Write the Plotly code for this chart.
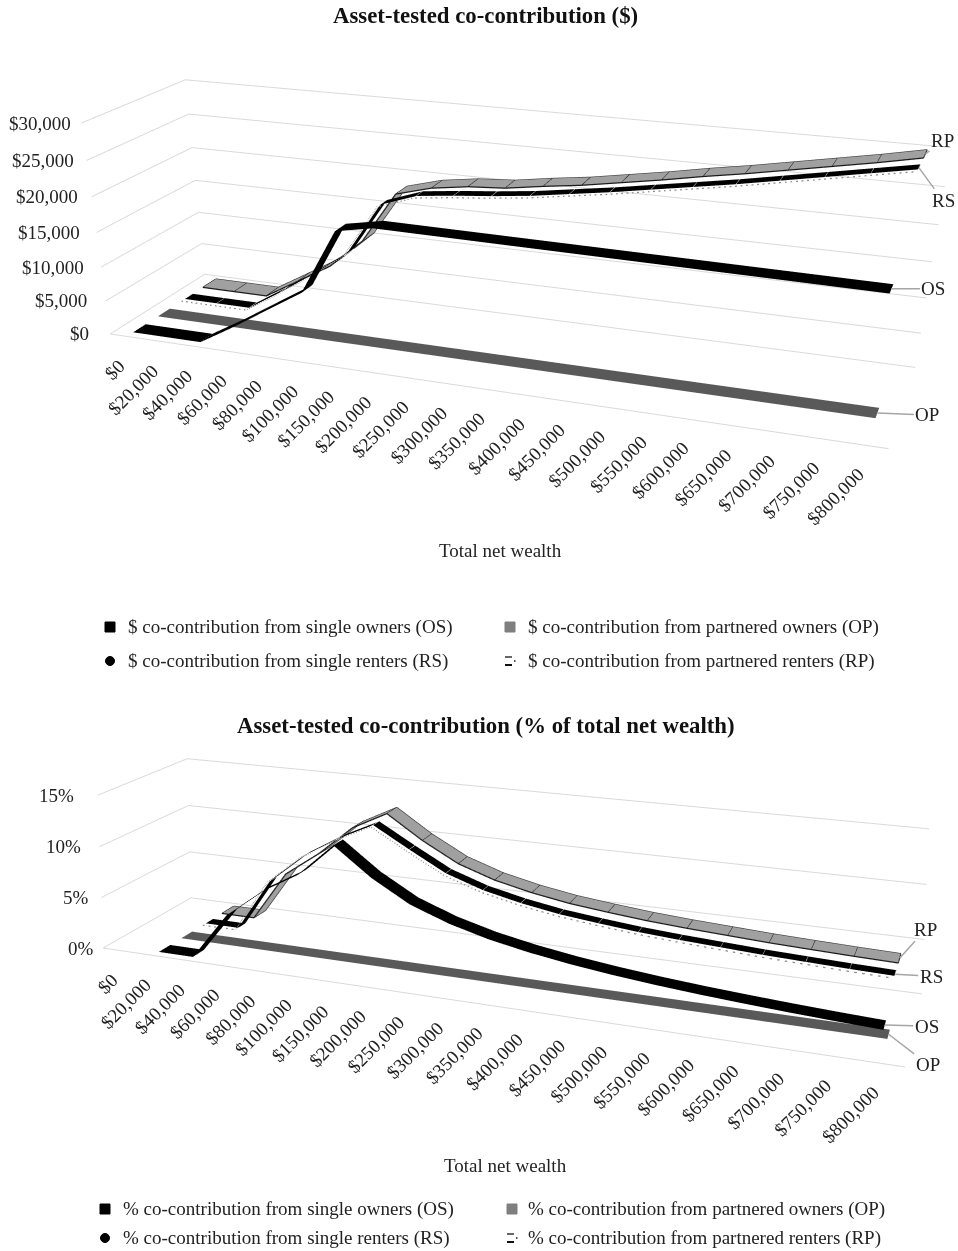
import numpy as np
import plotly.graph_objects as go

W, H = 958, 1251
CATEGORIES = ["$0","$20,000","$40,000","$60,000","$80,000","$100,000","$150,000","$200,000","$250,000","$300,000",
              "$350,000","$400,000","$450,000","$500,000","$550,000","$600,000","$650,000","$700,000","$750,000","$800,000"]
D_OS = [0,0,0,3000,6200,9400,18600,19600,19550,19500,19450,19400,19350,19300,19250,19200,19150,19100,19050,19000]
D_OP = [0]*20
D_RS = [0,0,0,3200,6600,10300,18000,19800,20400,20900,21500,22300,23100,24000,24900,25800,26800,27800,28800,29800]
D_RP = [0,0,0,3000,6000,10500,18000,19400,20150,20500,21300,22000,22900,23800,24800,25700,26700,27700,28700,29800]
P_OS = [None,0,0,4.5,7.2,9.2,12.4,9.8,7.8,6.5,5.55,4.85,4.3,3.86,3.5,3.2,2.95,2.73,2.54,2.38]
P_OP = [None]+[0]*19
P_RS = [None,0,0,5.3,8.2,10.3,12,10,8.1,6.9,6.1,5.5,5.1,4.75,4.5,4.3,4.1,3.96,3.83,3.73]
P_RP = [None,0,0,5,7.5,10.5,12.3,10,8.1,6.9,6.1,5.5,5.1,4.75,4.5,4.3,4.1,3.96,3.83,3.73]
Z_TOP = [0,5000,10000,15000,20000,25000,30000]
Z_TOP_TEXT = ["$0","$5,000","$10,000","$15,000","$20,000","$25,000","$30,000"]
Z_BOT = [0,5,10,15]
Z_BOT_TEXT = ["0%","5%","10%","15%"]
SERIF = "Liberation Serif"
INK = "#222222"
X = list(range(20))

fig = go.Figure()

def ribbon(scene, y0, y1, vals, color):
    v = np.array([vals,vals],dtype=float)
    fig.add_trace(go.Surface(scene=scene, x=np.array([X,X]), y=np.array([[y0]*20,[y1]*20]), z=v,
        surfacecolor=np.zeros_like(v), colorscale=[[0,color],[1,color]], cmin=0, cmax=1, showscale=False,
        hoverinfo="skip", lighting=dict(ambient=1,diffuse=0,specular=0,fresnel=0)))

def edge(scene, y, vals, color, width, dash="solid"):
    fig.add_trace(go.Scatter3d(scene=scene, x=X, y=[y]*20, z=vals, mode="lines", hoverinfo="skip",
        line=dict(color=color,width=width,dash=dash)))

def cross(scene, y0, y1, vals, color, width):
    xs,ys,zs=[],[],[]
    for i,v in zip(X,vals):
        if v is None: continue
        xs+=[i,i,None]; ys+=[y0,y1,None]; zs+=[v,v,None]
    fig.add_trace(go.Scatter3d(scene=scene, x=xs, y=ys, z=zs, mode="lines", hoverinfo="skip",
        line=dict(color=color,width=width)))

def series(scene, os_, op, rs, rp):
    ribbon(scene,.25,.75,os_,"#000000")
    ribbon(scene,1.25,1.75,op,"#595959")
    ribbon(scene,2.4,2.75,rs,"#000000")
    edge(scene,2.25,rs,"#8c8c8c",2.5,"dot")
    cross(scene,2.25,2.75,rs,"#ffffff",1.5)
    ribbon(scene,3.2,3.8,rp,"#a0a0a0")
    edge(scene,3.2,rp,"#1a1a1a",2.5)
    edge(scene,3.8,rp,"#404040",2.5)
    cross(scene,3.2,3.8,rp,"#1a1a1a",2)

series("scene",D_OS,D_OP,D_RS,D_RP)
series("scene2",P_OS,P_OP,P_RS,P_RP)

def ann3(x,y,z,text,**k):
    return dict(x=x,y=y,z=z,text=text,font=dict(family=SERIF,size=k.pop("size",19),color=INK),**k)

def scene_annotations(zvals,ztext,zshift,ends):
    out=[]
    for i,t in zip(X,CATEGORIES):
        out.append(ann3(i,0,0,t,showarrow=False,textangle=-45,xanchor="right",yanchor="top",xshift=5,yshift=-16))
    for z,t,s in zip(zvals,ztext,zshift):
        out.append(ann3(-.5,0,z,t,showarrow=False,xanchor="right",yanchor="middle",xshift=s,size=19))
    for (name,y,z,ax,ay) in ends:
        out.append(ann3(19,y,z,name,showarrow=True,arrowhead=0,arrowwidth=1.5,arrowcolor="#a6a6a6",ax=ax,ay=ay,size=19))
    return out

def sc(p,zr,dt,ann):
    ay,az,ex,ey,ez,cx,cy,cz=p
    return dict(domain=dict(x=[0,1],y=[0,1]),bgcolor="rgba(0,0,0,0)",aspectmode="manual",aspectratio=dict(x=1,y=ay,z=az),
      camera=dict(eye=dict(x=ex,y=ey,z=ez),center=dict(x=cx,y=cy,z=cz),up=dict(x=0,y=0,z=1)),
      annotations=ann,
      xaxis=dict(range=[-.5,19.5],tickvals=X,showticklabels=False,ticks="",showgrid=False,showbackground=False,zeroline=False,showline=True,linecolor="#d9d9d9",linewidth=2,title=dict(text=""),showspikes=False),
      yaxis=dict(range=[0,4],showticklabels=False,showgrid=False,showbackground=False,zeroline=False,showline=False,title=dict(text=""),showspikes=False,ticks=""),
      zaxis=dict(range=zr,dtick=dt,showticklabels=False,showgrid=True,gridcolor="#d9d9d9",gridwidth=2,showbackground=False,zeroline=False,showline=False,title=dict(text=""),showspikes=False,ticks=""))

CAM_TOP = [0.2504,0.2692,0.6056,-1.7159,0.5882,0.5074,-1.4517,0.4121]
CAM_BOT = [0.2141,0.2023,0.6128,-1.6817,0.5923,0.1737,-0.5192,0.4104]
ENDS_TOP = [("RP",3.5,D_RP[-1],17,-13),("RS",2.5,D_RS[-1],24,33),("OS",.5,D_OS[-1],42,0),("OP",1.5,0,50,2)]
ENDS_BOT = [("RP",3.5,P_RP[-1],26,-29),("RS",2.5,P_RS[-1],36,2),("OS",.5,P_OS[-1],42,1),("OP",1.5,0,39,30)]

def px(x,y): return x/W, 1-y/H

shapes=[]; texts=[]
def label(x,y,t,anchor="left",size=19,bold=False):
    a,b=px(x,y)
    texts.append(dict(xref="paper",yref="paper",x=a,y=b,text=("<b>%s</b>"%t if bold else t),showarrow=False,xanchor=anchor,yanchor="middle",
                      font=dict(family=SERIF,size=size,color="#111111" if bold else INK)))
def box(cx,cy,s,color,kind="rect"):
    a0,b0=px(cx-s/2,cy+s/2); a1,b1=px(cx+s/2,cy-s/2)
    shapes.append(dict(type=kind,xref="paper",yref="paper",x0=a0,y0=b0,x1=a1,y1=b1,fillcolor=color,line=dict(color=color,width=1)))
def seg(x0,y0,x1,y1,color,width,dash="solid"):
    a0,b0=px(x0,y0); a1,b1=px(x1,y1)
    shapes.append(dict(type="line",xref="paper",yref="paper",x0=a0,y0=b0,x1=a1,y1=b1,line=dict(color=color,width=width,dash=dash)))
def dash_key(cx,cy):
    seg(cx-5,cy-4,cx+2,cy-4,"#333333",1.5,"dash")
    seg(cx-5,cy+4,cx+2,cy+4,"#111111",2)
    seg(cx+4,cy,cx+5.5,cy,"#555555",2)

label(485.5,16,"Asset-tested co-contribution ($)","center",22.8,True)
label(486,725,"Asset-tested co-contribution (% of total net wealth)","center",22.8,True)
label(500.5,550,"Total net wealth","center")
label(505.5,1165,"Total net wealth","center")
for (tx,mx,y,t) in [(126,110,627,"$ co-contribution from single owners (OS)"),(526,510,627,"$ co-contribution from partnered owners (OP)"),
                    (126,110,661,"$ co-contribution from single renters (RS)"),(526,510,661,"$ co-contribution from partnered renters (RP)"),
                    (121,105,1209,"% co-contribution from single owners (OS)"),(526,512,1209,"% co-contribution from partnered owners (OP)"),
                    (121,105,1238,"% co-contribution from single renters (RS)"),(526,512,1238,"% co-contribution from partnered renters (RP)")]:
    label(tx,y,t)
    if "single owners" in t: box(mx,y,10,"#000000")
    elif "partnered owners" in t: box(mx,y,10,"#7f7f7f")
    elif "single renters" in t: box(mx,y,9,"#000000","circle")
    else: dash_key(mx,y)

fig.update_layout(width=W,height=H,margin=dict(l=0,r=0,t=0,b=0),paper_bgcolor="white",showlegend=False,
    scene=sc(CAM_TOP,[0,30000],5000,scene_annotations(Z_TOP,Z_TOP_TEXT,[-19,-17,-15,-14,-12,-11,-8],ENDS_TOP)),
    scene2=sc(CAM_BOT,[0,15],5,scene_annotations(Z_BOT,Z_BOT_TEXT,[-7,-10,-16,-21],ENDS_BOT)),
    shapes=shapes,annotations=texts)
fig.write_html("out.html",config=dict(displayModeBar=False),post_script="document.body.style.margin='0';document.body.style.overflow='hidden';")
